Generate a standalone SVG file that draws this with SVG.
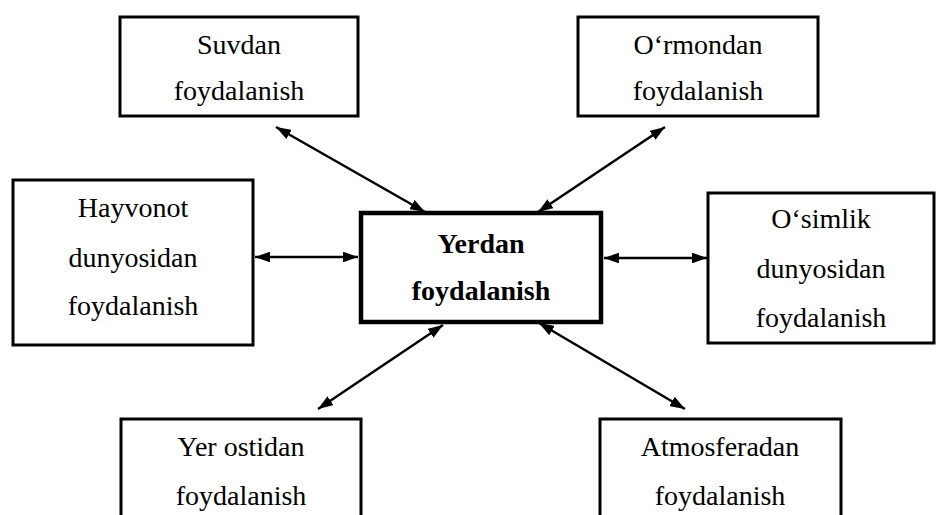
<svg xmlns="http://www.w3.org/2000/svg" width="937" height="515" viewBox="0 0 937 515">
<defs>
<style>
.box{fill:#fff;stroke:#000;stroke-width:3}
.main{fill:#fff;stroke:#000;stroke-width:4.5}
.t{font-family:"Liberation Serif","Times New Roman",serif;font-size:28px;fill:#000;text-anchor:middle}
.b{font-weight:bold}
.c{stroke:#000;stroke-width:2.5;fill:none;marker-start:url(#ah);marker-end:url(#ah)}
</style>
<marker id="ah" viewBox="0 0 14 10" refX="14" refY="5" markerWidth="6" markerHeight="4.3" markerUnits="strokeWidth" orient="auto-start-reverse">
<path d="M0,0 L14,5 L0,10 z" fill="#000"/>
</marker>
</defs>
<rect width="937" height="515" fill="#fff"/>
<g id="connectors">
<line class="c" x1="276" y1="127" x2="425" y2="212"/>
<line class="c" x1="538" y1="212" x2="665" y2="127"/>
<line class="c" x1="255" y1="257" x2="358" y2="257"/>
<line class="c" x1="604" y1="258" x2="707" y2="258"/>
<line class="c" x1="443" y1="325" x2="318" y2="409"/>
<line class="c" x1="539" y1="323" x2="685" y2="409"/>
</g>
<g id="center">
<rect class="main" x="361" y="213" width="240" height="109"/>
<text class="t b" x="481" y="253">Yerdan</text>
<text class="t b" x="481" y="300">foydalanish</text>
</g>
<g id="suvdan">
<rect class="box" x="120" y="17" width="238" height="99"/>
<text class="t" x="239" y="54">Suvdan</text>
<text class="t" x="239" y="100">foydalanish</text>
</g>
<g id="ormondan">
<rect class="box" x="578" y="17" width="240" height="99"/>
<text class="t" x="698" y="54">O‘rmondan</text>
<text class="t" x="698" y="100">foydalanish</text>
</g>
<g id="hayvonot">
<rect class="box" x="13" y="180" width="240" height="165"/>
<text class="t" x="133" y="217">Hayvonot</text>
<text class="t" x="133" y="267">dunyosidan</text>
<text class="t" x="133" y="315">foydalanish</text>
</g>
<g id="osimlik">
<rect class="box" x="708" y="193" width="226" height="150"/>
<text class="t" x="821" y="228">O‘simlik</text>
<text class="t" x="821" y="278">dunyosidan</text>
<text class="t" x="821" y="327">foydalanish</text>
</g>
<g id="yerostidan">
<rect class="box" x="121" y="419" width="240" height="110"/>
<text class="t" x="241" y="456">Yer ostidan</text>
<text class="t" x="241" y="505">foydalanish</text>
</g>
<g id="atmosferadan">
<rect class="box" x="600" y="419" width="241" height="110"/>
<text class="t" x="720" y="456">Atmosferadan</text>
<text class="t" x="720" y="505">foydalanish</text>
</g>
</svg>
